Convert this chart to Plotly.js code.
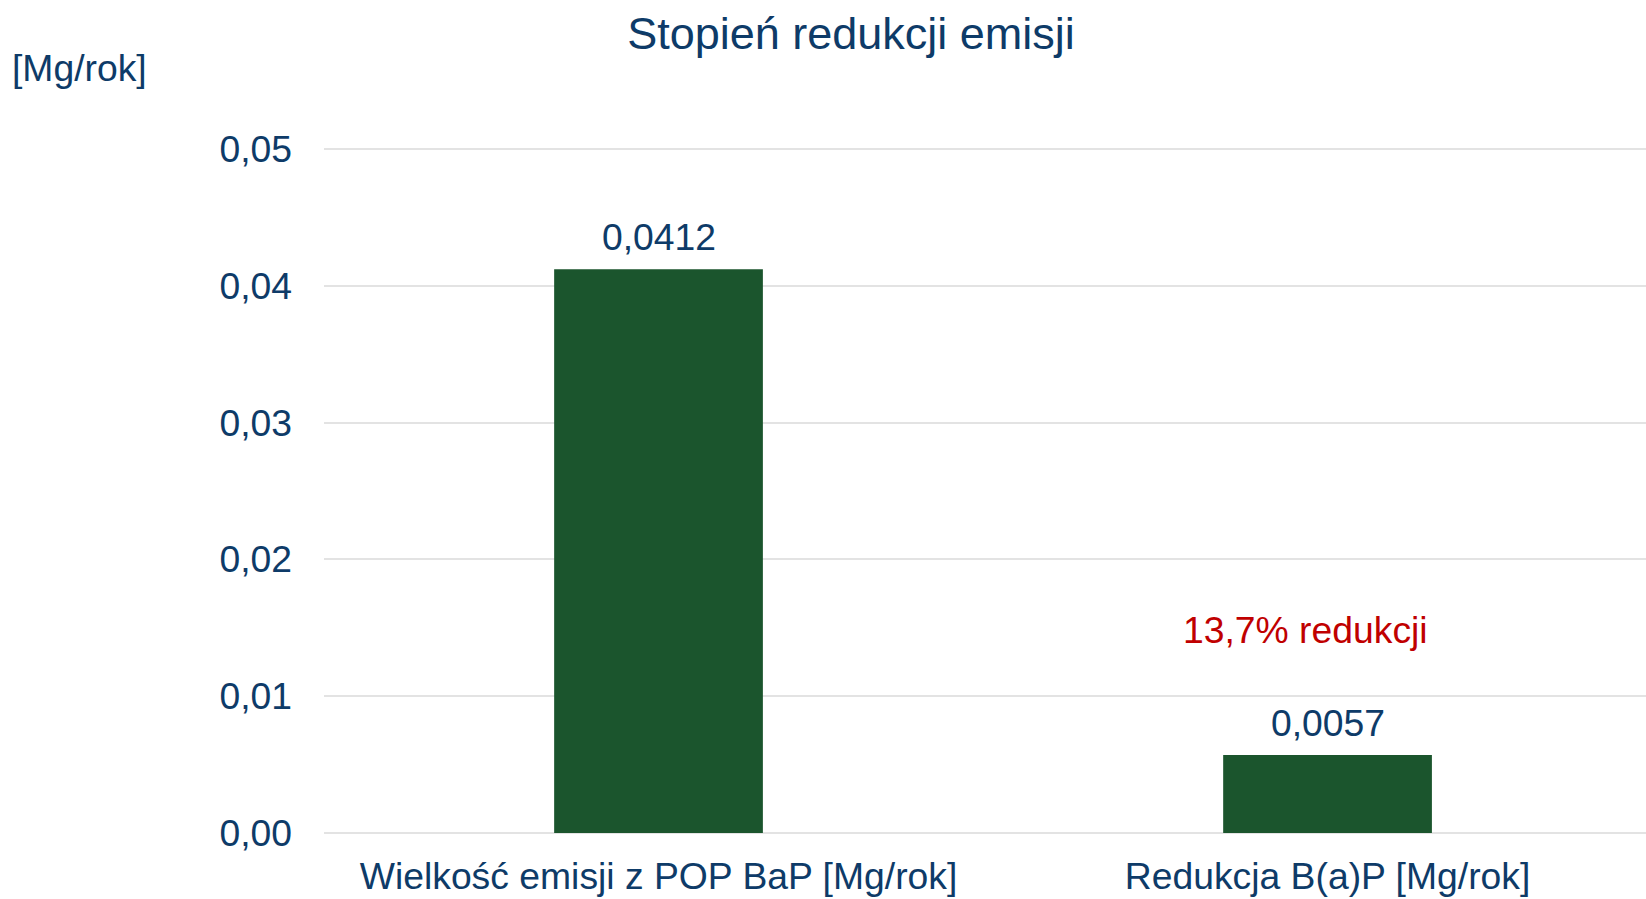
<!DOCTYPE html>
<html>
<head>
<meta charset="utf-8">
<script src="https://cdn.plot.ly/plotly-3.0.1.min.js"></script>
<style>html,body{margin:0;padding:0;overflow:hidden;background:#fff}</style>
</head>
<body>
<div id="chart" style="width:1646px;height:899px"></div>
<script>
const categories = ["Wielkość emisji z POP BaP [Mg/rok]", "Redukcja B(a)P [Mg/rok]"];
const values = [0.0412, 0.0057];
const valueLabels = ["0,0412", "0,0057"];
const tickVals = [0, 0.01, 0.02, 0.03, 0.04, 0.05];
const tickText = ["0,00", "0,01", "0,02", "0,03", "0,04", "0,05"];
const noteText = "13,7% redukcji";
const noteY = 0.0148;

const FONT = "Liberation Sans, Arial, sans-serif";
const BLUE = "#0e3b68";
const FS = 37.3;

const annotations = categories.map((c, i) => ({
  x: c, y: values[i], xref: "x", yref: "y",
  text: valueLabels[i], showarrow: false,
  yanchor: "bottom", yshift: 9,
  font: {family: FONT, size: FS, color: BLUE}
}));
annotations.push({
  x: categories[1], y: noteY, xref: "x", yref: "y",
  text: noteText, showarrow: false, xshift: -22,
  font: {family: FONT, size: FS, color: "#c00000"}
});
annotations.push({
  x: 0, y: 1, xref: "paper", yref: "paper", xanchor: "left", yanchor: "middle",
  xshift: -314, yshift: 74,
  text: "[Mg/rok]", showarrow: false,
  font: {family: FONT, size: FS, color: BLUE}
});

const trace = {
  type: "bar",
  x: categories,
  y: values,
  width: 0.312,
  marker: {color: "#1b552d"},
  hoverinfo: "skip"
};

const layout = {
  width: 1646, height: 899,
  margin: {l: 324, r: 0, t: 142, b: 66},
  paper_bgcolor: "#ffffff", plot_bgcolor: "#ffffff",
  showlegend: false,
  title: {
    text: "Stopień redukcji emisji",
    font: {family: FONT, size: 45, color: BLUE},
    x: 851 / 1646, xanchor: "center",
    y: 1 - 33 / 899, yanchor: "middle"
  },
  xaxis: {
    type: "category",
    range: [-0.5, 1.476],
    showgrid: false, zeroline: false, showline: false,
    ticks: "", ticklabelstandoff: 18,
    tickfont: {family: FONT, size: FS, color: BLUE}
  },
  yaxis: {
    range: [0, 0.0505],
    tickvals: tickVals, ticktext: tickText,
    showgrid: true, gridcolor: "#e3e3e3", gridwidth: 2,
    zeroline: true, zerolinecolor: "#e3e3e3", zerolinewidth: 2,
    showline: false, ticks: "", ticklabelstandoff: 31,
    tickfont: {family: FONT, size: FS, color: BLUE}
  },
  annotations: annotations
};

Plotly.newPlot("chart", [trace], layout, {displayModeBar: false, staticPlot: true});
</script>
</body>
</html>
